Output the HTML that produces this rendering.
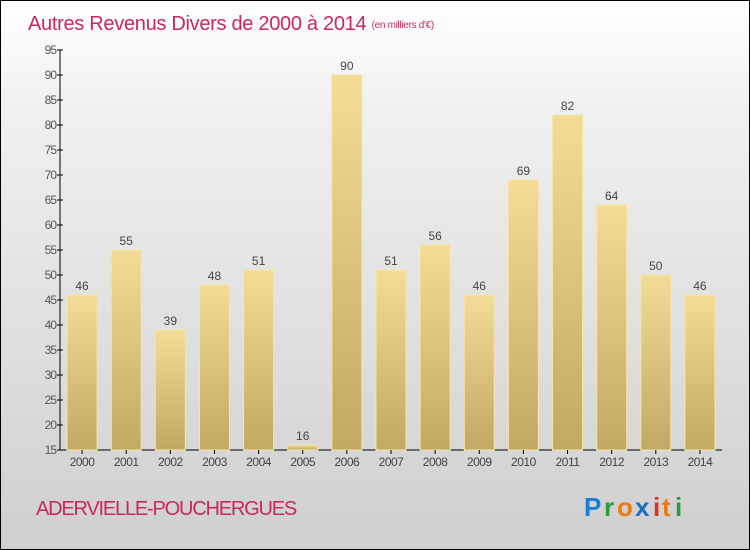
<!DOCTYPE html>
<html><head><meta charset="utf-8"><style>
body{margin:0;}
#c{position:relative;width:748px;height:548px;border:1px solid #000;background:linear-gradient(#ffffff,#f0f0f0 20%,#cfcfcf);overflow:hidden;font-family:"Liberation Sans",sans-serif;}
</style></head><body>
<div id="c">
<svg id="s" width="748" height="548">
<defs><linearGradient id="g" x1="0" y1="0" x2="0" y2="1"><stop offset="0" stop-color="#f2dc96"/><stop offset="1" stop-color="#c2a963"/></linearGradient></defs>
<text x="27" y="29" font-size="20" fill="#c8285a" letter-spacing="-0.3">Autres Revenus Divers de 2000 à 2014 <tspan font-size="10" dy="-2">(en milliers d'€)</tspan></text>
<text x="35" y="514" font-size="20" fill="#c8285a" letter-spacing="-1.2">ADERVIELLE-POUCHERGUES</text>
<g font-size="26" font-weight="bold"><text x="583" y="515" fill="#1a7fd4">P</text><text x="603" y="515" fill="#2a9a3a">r</text><text x="616" y="515" fill="#f07a10">o</text><text x="634" y="515" fill="#1a6fc4">x</text><text x="652" y="515" fill="#e03020">i</text><text x="661" y="515" fill="#f07a10">t</text><text x="674" y="515" fill="#2a9a3a">i</text></g>
<g id="plot"></g>
</svg></div>
<script>
const categories=["2000","2001","2002","2003","2004","2005","2006","2007","2008","2009","2010","2011","2012","2013","2014"];
const values=[46,55,39,48,51,16,90,51,56,46,69,82,64,50,46];
const ticks=[15,20,25,30,35,40,45,50,55,60,65,70,75,80,85,90,95];
const ns="http://www.w3.org/2000/svg";
const p=document.getElementById("plot");
const x0=59,x1=721,ymin=15,ymax=95,y0=449,yt=49;
const Y=v=>y0-(v-ymin)/(ymax-ymin)*(y0-yt);
const step=(x1-x0)/categories.length;
const X=i=>x0+step*(i+0.5);
function mk(t,a){const e=document.createElementNS(ns,t);for(const k in a)e.setAttribute(k,a[k]);p.appendChild(e);return e;}
let e;
e=mk("line",{x1:x0,y1:yt,x2:x0,y2:y0,stroke:"#000"});


e=mk("line",{x1:x0,y1:y0,x2:x1,y2:y0,stroke:"#000"});


ticks.forEach(v=>{
 e=mk("line",{x1:x0-3,y1:Y(v),x2:x0+3,y2:Y(v),stroke:"#000"});
 
 
 e=mk("text",{x:x0-4,y:Y(v)+4,"font-size":12,fill:"#555","text-anchor":"end","letter-spacing":"-1"});
 e.textContent=v;
 
 
});
categories.forEach((c,i)=>{
 const w=30,cx=X(i);
 e=mk("rect",{x:cx-w/2,y:Y(values[i]),width:w,height:y0-Y(values[i]),fill:"url(#g)",stroke:"#f5e6a8","stroke-width":1});
 
 
 e=mk("text",{x:cx,y:Y(values[i])-5,"font-size":12,fill:"#444","text-anchor":"middle"});
 e.textContent=values[i];
 
 
 e=mk("line",{x1:cx,y1:y0,x2:cx,y2:y0+4,stroke:"#000"});
 
 
 e=mk("text",{x:cx,y:y0+16,"font-size":12,fill:"#444","text-anchor":"middle","letter-spacing":"-0.5"});
 e.textContent=c;
 
 
});
</script>
</body></html>
